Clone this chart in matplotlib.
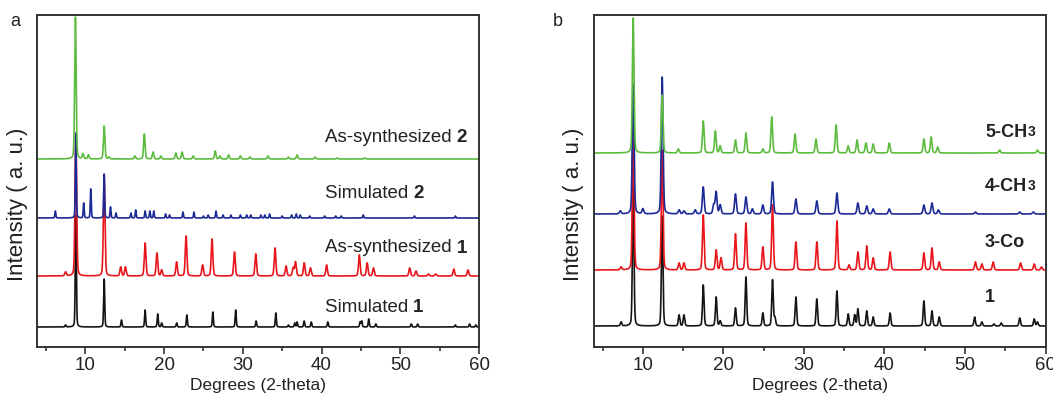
import numpy as np
import matplotlib
matplotlib.use("Agg")
import matplotlib.pyplot as plt

plt.rcParams['font.family'] = ['Liberation Sans', 'DejaVu Sans']

# ---------------- data (peak positions in 2-theta, heights in a.u.) ----------------
# Panel a
a_sim1_pos = [7.5, 8.8, 12.4, 14.6, 17.6, 19.2, 19.7, 21.6, 22.9, 26.2, 29.1, 31.7, 34.2, 35.8, 36.6, 36.9,
              37.8, 38.7, 40.8, 44.9, 45.1, 46.0, 46.9, 51.4, 52.2, 57.0, 58.8, 59.6]
a_sim1_h = [2, 112, 48, 7, 17, 13, 4, 4, 12, 15, 17, 6, 14, 2, 4, 5,
            6, 5, 5, 5, 6, 8, 3, 3, 3, 2, 3, 2]

a_syn1_pos = [7.5, 8.8, 12.4, 14.5, 15.1, 17.6, 19.1, 19.7, 21.6, 22.8, 24.9, 26.1, 28.95, 31.65, 34.1, 35.5,
              36.4, 36.7, 37.8, 38.6, 40.65, 44.8, 45.8, 46.6, 51.2, 52.0, 53.6, 54.5, 56.8, 58.6]
a_syn1_h = [4, 140, 100, 9, 9, 33, 23, 6, 14, 40, 11, 37, 24, 22, 28, 10,
            8, 14, 13, 8, 11, 21, 13, 8, 8, 5, 2, 2, 7, 6]

a_sim2_pos = [6.2, 8.8, 9.8, 10.7, 12.4, 13.2, 13.9, 15.8, 16.4, 17.6, 18.2, 18.7, 20.2, 20.7, 22.4, 23.8,
              25.0, 25.6, 26.6, 27.5, 28.5, 29.7, 30.5, 31.0, 32.3, 32.8, 33.4, 35.0, 36.2, 36.8, 37.3,
              38.5, 40.4, 41.8, 42.5, 45.3, 51.8, 57.0]
a_sim2_h = [7, 85, 15, 29, 44, 11, 5, 5, 8, 7, 7, 7, 4, 3, 6, 6,
            2, 3, 7, 3, 3, 3, 3, 3, 3, 3, 4, 2, 3, 4, 3,
            2, 2, 2, 2, 3, 2, 2]

a_syn2_pos = [8.75, 9.7, 10.4, 12.4, 13.0, 16.3, 17.5, 18.6, 19.6, 21.5, 22.3, 23.7, 26.5, 27.1, 28.2, 29.7,
              30.9, 33.2, 35.8, 36.9, 39.2, 42.0, 45.5]
a_syn2_h = [142, 5, 4, 33, 2, 3, 25, 7, 3, 6, 7, 3, 8, 3, 4, 3,
            2, 3, 2, 4, 2, 1, 1]

# Panel b
b_1_pos = [7.3, 8.8, 12.4, 14.5, 15.1, 17.5, 19.1, 19.6, 21.5, 22.8, 24.9, 26.1, 26.4, 29.0, 31.6, 34.1,
           35.5, 36.3, 36.7, 37.8, 38.6, 40.7, 44.9, 45.9, 46.8, 51.2, 52.1, 53.6, 54.5, 56.8, 58.6, 59.0]
b_1_h = [4, 140, 110, 11, 11, 41, 29, 5, 18, 49, 13, 46, 8, 29, 27, 35,
         12, 11, 17, 15, 9, 13, 25, 15, 9, 9, 4, 2, 3, 8, 7, 4]

b_3co_pos = [7.3, 8.8, 12.4, 14.5, 15.1, 17.5, 19.1, 19.7, 21.5, 22.8, 24.9, 26.1, 29.0, 31.6, 34.1, 35.6,
             36.7, 37.8, 38.6, 40.7, 44.9, 45.9, 46.8, 51.3, 52.1, 53.5, 56.9, 58.6, 59.5]
b_3co_h = [3, 150, 120, 7, 7, 55, 20, 12, 36, 47, 23, 65, 28, 28, 49, 5,
           18, 24, 12, 18, 17, 22, 8, 8, 6, 8, 7, 6, 3]

b_4ch3_pos = [7.2, 8.8, 10.0, 12.4, 14.5, 15.1, 16.5, 17.5, 18.8, 19.1, 19.6, 21.5, 22.8, 23.6, 24.9, 26.1,
              29.0, 31.6, 34.1, 36.7, 37.8, 38.6, 40.6, 44.9, 45.9, 46.7, 51.3, 56.8, 58.5]
b_4ch3_h = [3, 130, 5, 137, 4, 3, 4, 27, 9, 22, 9, 20, 17, 5, 9, 32,
            15, 13, 21, 11, 8, 5, 5, 9, 11, 4, 2, 2, 2]

b_5ch3_pos = [8.8, 12.4, 14.4, 17.5, 19.0, 19.6, 21.5, 22.8, 24.9, 26.0, 28.9, 31.5, 34.0, 35.5, 36.6, 37.7,
              38.6, 40.6, 44.9, 45.8, 46.6, 54.3, 59.0]
b_5ch3_h = [135, 58, 4, 32, 22, 7, 13, 20, 4, 36, 19, 14, 28, 7, 13, 10,
            9, 10, 14, 16, 6, 3, 3]

labels_a = ["Simulated ", "As-synthesized ", "Simulated ", "As-synthesized "]
labels_a_bold = ["1", "1", "2", "2"]
labels_b = ["1", "3-Co", "4-CH", "5-CH"]
labels_b_sub = ["", "", "3", "3"]

colors = ["#141414", "#e8161b", "#1c2a96", "#5dbb3f"]

# ---------------- figure ----------------
W, H = 1053, 396
fig = plt.figure(figsize=(W / 100, H / 100), dpi=100)
ax_a = fig.add_axes([37 / W, 1 - 347 / H, (479 - 37) / W, (347 - 15) / H])
ax_b = fig.add_axes([593.5 / W, 1 - 347 / H, (1045.5 - 593.5) / W, (347 - 15) / H])

x = np.linspace(3.87, 60, 6000)


def profile(pos, h, fwhm, base):
    y = np.full_like(x, float(base))
    s = fwhm / 2.3548
    g = fwhm / 2
    for p, hh in zip(pos, h):
        d = x - p
        y += hh * (0.75 * np.exp(-d ** 2 / (2 * s ** 2)) + 0.25 * g ** 2 / (d ** 2 + g ** 2))
    return y


series_a = [(a_sim1_pos, a_sim1_h, 0.16, 20), (a_syn1_pos, a_syn1_h, 0.24, 71),
            (a_sim2_pos, a_sim2_h, 0.14, 129), (a_syn2_pos, a_syn2_h, 0.22, 188)]
series_b = [(b_1_pos, b_1_h, 0.22, 21), (b_3co_pos, b_3co_h, 0.24, 77),
            (b_4ch3_pos, b_4ch3_h, 0.26, 133), (b_5ch3_pos, b_5ch3_h, 0.24, 194)]

for ax, series in ((ax_a, series_a), (ax_b, series_b)):
    for (pos, h, w, base), c in zip(series, colors):
        ax.plot(x, profile(pos, h, w, base), color=c, lw=1.2)
    ax.set_xlim(3.87, 60)
    ax.set_ylim(0, 332)
    ax.set_xticks([10, 20, 30, 40, 50, 60])
    ax.set_xticks([5, 15, 25, 35, 45, 55], minor=True)
    ax.set_yticks([])
    ax.tick_params(axis='x', which='major', direction='out', length=5, width=1.1,
                   labelsize=13.5, colors='#222222', pad=2)
    ax.tick_params(axis='x', which='minor', direction='out', length=3, width=1.1, colors='#222222')
    for sp in ax.spines.values():
        sp.set_linewidth(1.4)
        sp.set_color('#333333')
    ax.set_xlabel("Degrees (2-theta)", fontsize=12.5, color='#222222', labelpad=3)
    ax.set_ylabel("Intensity ( a. u.)", fontsize=16, color='#222222', labelpad=0)
    ax.yaxis.set_label_coords(-0.02, 0.43)

# panel a labels
ya = [40, 99, 154, 210]
for lab, b, yy in zip(labels_a, labels_a_bold, ya):
    t = ax_a.text(40.4, yy, lab, fontsize=13.5, color='#222222', va='center', ha='left')
    ax_a.annotate(b, xy=(1, 0), xycoords=t, va='bottom', ha='left', fontsize=13.5,
                  fontweight='bold', color='#222222')

# panel b labels
yb = [49, 105, 161, 215]
for lab, sub, yy in zip(labels_b, labels_b_sub, yb):
    t = ax_b.text(52.5, yy, lab, fontsize=13, fontweight='bold', color='#222222',
                  va='center', ha='left')
    if sub:
        ax_b.annotate(sub, xy=(1, 0.08), xycoords=t, va='bottom', ha='left', fontsize=10,
                      fontweight='bold', color='#222222')

fig.text(10 / W, 1 - 22 / H, "a", fontsize=13, color='#222222', va='center', ha='left')
fig.text(553 / W, 1 - 22 / H, "b", fontsize=13, color='#222222', va='center', ha='left')

fig.savefig("out.png", dpi=100)
